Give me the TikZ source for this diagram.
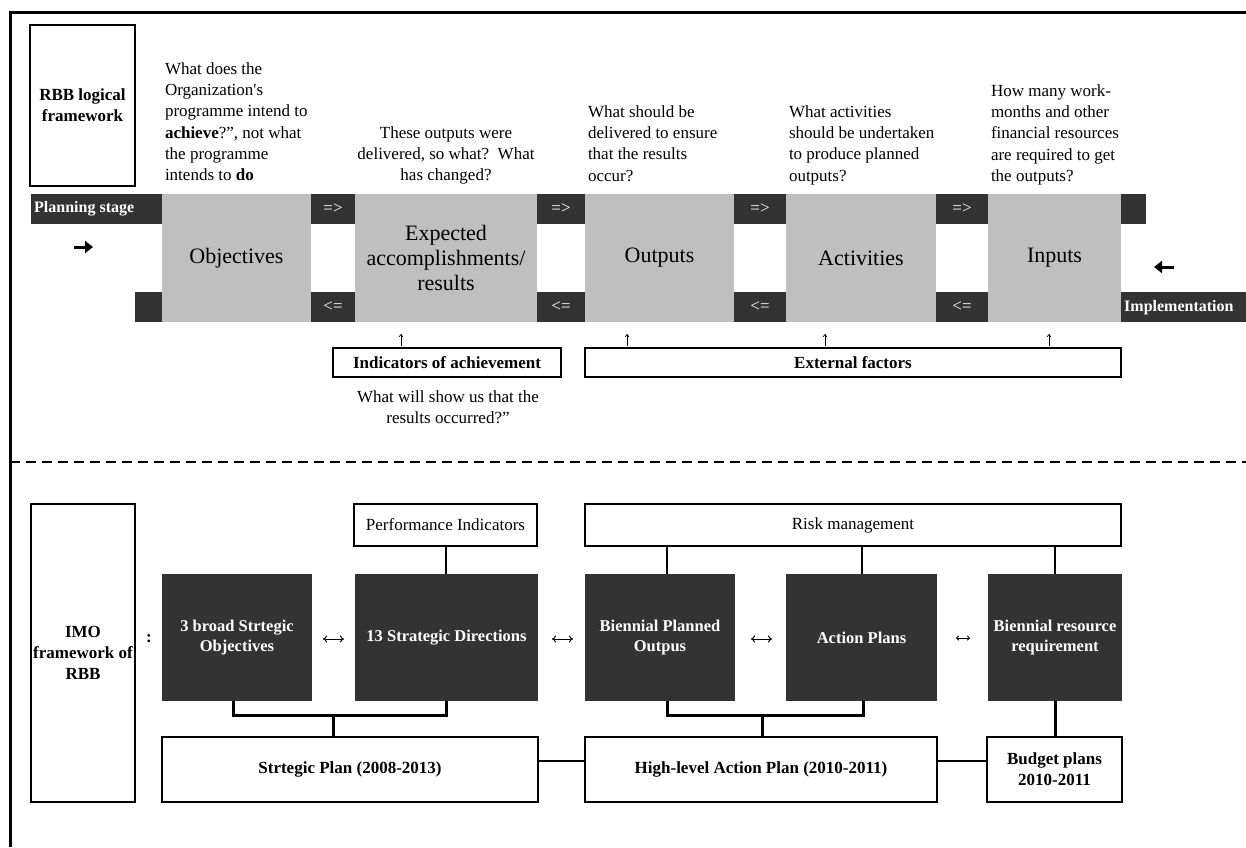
\documentclass[tikz,border=0pt]{standalone}
\usepackage{fontspec}
\setmainfont{Liberation Serif}
\usetikzlibrary{arrows.meta,calc}
\definecolor{darkc}{RGB}{51,51,51}
\definecolor{greyc}{RGB}{191,191,191}
\newcommand\BX[7]{\node[#1, minimum width={#5-#3}, minimum height={#6-#4}] (#2) at ({(#3+#5)/2},{(#4+#6)/2}) {#7};}
\tikzset{
  base/.style={inner sep=0pt, outer sep=0pt, align=center},
  wbox/.style={base, draw, line width=2.5pt, fill=white, font=\fontsize{17}{21}\selectfont\bfseries},
  wboxr/.style={base, draw, line width=2.5pt, fill=white, font=\fontsize{17}{21}\selectfont},
  dbox/.style={base, fill=darkc, text=white, font=\fontsize{16.5}{20}\selectfont\bfseries},
  gbox/.style={base, fill=greyc, font=\fontsize{22}{25}\selectfont},
  tile/.style={base, fill=darkc, text=white, font=\fontsize{17}{20}\selectfont},
  qtext/.style={inner sep=0pt, outer sep=0pt, font=\fontsize{17}{21.3}\selectfont},
  conn/.style={line width=2pt},
  thk/.style={line width=3pt},
  bigarrow/.style={line width=3pt, -{Triangle[length=8pt,width=12pt]}},
  dblarrow/.style={line width=1pt, {To[length=4pt,width=7pt]}-{To[length=4pt,width=7pt]}},
  smallup/.style={line width=0.7pt, -{To[length=3pt,width=4pt]}}
}
\begin{document}
\begin{tikzpicture}[x=1pt,y=-1pt]
\useasboundingbox (0,0) rectangle (1246,847);
% frame
\draw[line width=3pt] (10,847) -- (10,12) -- (1246,12);
\draw[line width=2.5pt, dash pattern=on 10pt off 6pt] (10,462) -- (1246,462);

% ---------- top section ----------
\BX{wbox}{rbb}{30}{25}{135}{186}{RBB logical\\framework}
\BX{tile}{plan}{31}{194}{162}{224}{}
\node[anchor=west, inner sep=0pt, text=white, font=\fontsize{16}{20}\selectfont\bfseries] (plant) at (34,209) {Planning stage};
\BX{gbox}{obj}{162}{194}{311}{322}{Objectives}
\BX{tile}{d1b}{135}{292}{162}{322}{}
\BX{tile}{d12t}{311}{194}{355}{224}{=>}
\BX{tile}{d12b}{311}{292}{355}{322}{<=}
\BX{gbox}{exp}{355}{194}{537}{322}{Expected\\accomplishments/\\results}
\BX{tile}{d23t}{537}{194}{585}{224}{=>}
\BX{tile}{d23b}{537}{292}{585}{322}{<=}
\BX{gbox}{out}{585}{194}{734}{322}{Outputs}
\BX{tile}{d34t}{734}{194}{786}{224}{=>}
\BX{tile}{d34b}{734}{292}{786}{322}{<=}
\BX{gbox}{act}{786}{194}{936}{322}{Activities}
\BX{tile}{d45t}{936}{194}{988}{224}{=>}
\BX{tile}{d45b}{936}{292}{988}{322}{<=}
\BX{gbox}{inp}{988}{194}{1121}{322}{Inputs}
\BX{tile}{d5t}{1121}{194}{1146}{224}{}
\BX{tile}{impl}{1121}{292}{1246}{322}{}
\node[anchor=west, inner sep=0pt, text=white, font=\fontsize{16}{20}\selectfont\bfseries] (implt) at (1124,308) {Implementation};

% questions
\node[qtext, anchor=north west, align=left] (q1) at (165,62.3) {What does the\\Organization\textquotesingle s\\programme intend to\\\textbf{achieve}?”, not what\\the programme\\intends to \textbf{do}};
\node[qtext, anchor=north, align=center] (q2) at (446,126.3) {These outputs were\\delivered, so what?\ \ What\\has changed?};
\node[qtext, anchor=north west, align=left] (q3) at (588,105.3) {What should be\\delivered to ensure\\that the results\\occur?};
\node[qtext, anchor=north west, align=left] (q4) at (789,105.3) {What activities\\should be undertaken\\to produce planned\\outputs?};
\node[qtext, anchor=north west, align=left] (q5) at (991,84.3) {How many work-\\months and other\\financial resources\\are required to get\\the outputs?};

% direction arrows
\coordinate (ra1) at (74,247); \coordinate (ra2) at (93,247);
\draw[bigarrow] (ra1) -- (ra2);
\coordinate (la1) at (1174,267); \coordinate (la2) at (1154,267);
\draw[bigarrow] (la1) -- (la2);

% boxes below the chain
\BX{wbox}{ind}{333}{348}{561}{377}{Indicators of achievement}
\BX{wbox}{ext}{585}{348}{1121}{377}{External factors}
\node[qtext, anchor=north, align=center] (q6) at (448,390.3) {What will show us that the\\results occurred?”};

% small up arrows
\foreach \ux/\nm in {401/u1,627/u2,825/u3,1049/u4}{
  \coordinate (\nm a) at (\ux,346); \coordinate (\nm b) at (\ux,334);
  \draw[smallup] (\nm a) -- (\nm b);
}

% ---------- bottom section ----------
\BX{wbox}{imo}{31}{504}{135}{802}{IMO\\framework of\\RBB}
\node[inner sep=0pt, font=\fontsize{17}{20}\selectfont\bfseries] (colon) at (149,639) {:};
\BX{wboxr}{pi}{354}{504}{537}{546}{Performance Indicators}
\BX{wboxr}{risk}{585}{504}{1121}{546}{Risk management}
\BX{dbox}{s1}{162}{574}{312}{701}{3 broad Strtegic\\Objectives}
\BX{dbox}{s2}{355}{574}{538}{701}{13 Strategic Directions}
\BX{dbox}{s3}{585}{574}{735}{701}{Biennial Planned\\Outpus}
\BX{dbox}{s4}{786}{574}{937}{701}{Action Plans}
\BX{dbox}{s5}{988}{574}{1122}{701}{Biennial resource\\requirement}
\BX{wbox}{sp}{162}{737}{538}{802}{Strtegic Plan (2008-2013)}
\BX{wbox}{hl}{585}{737}{937}{802}{High-level Action Plan (2010-2011)}
\BX{wbox}{bp}{987}{737}{1122}{802}{Budget plans\\2010-2011}

% double arrows between the dark boxes
\draw[dblarrow] (323,639) -- (344,639);
\draw[dblarrow] (552,639) -- (573,639);
\draw[dblarrow] (751,639) -- (772,639);
\draw[line width=0.8pt, {To[length=3pt,width=5pt]}-{To[length=3pt,width=5pt]}] (956,638) -- (970,638);

% connectors
\draw[conn] (pi.south) -- (s2.north -| pi.south);
\draw[conn] ([xshift=7pt]s3.north |- risk.south) -- ([xshift=7pt]s3.north);
\draw[conn] ([xshift=0.5pt]s4.north |- risk.south) -- ([xshift=0.5pt]s4.north);
\draw[conn] (s5.north |- risk.south) -- (s5.north);

\coordinate (b1) at (333,715);
\draw[thk] ([xshift=-4pt]s1.south) |- (b1) -| (s2.south);
\draw[thk] (b1) -- (b1 |- sp.north);
\coordinate (b2) at (762,715);
\draw[thk] ([xshift=7pt]s3.south) |- (b2) -| ([xshift=1.5pt]s4.south);
\draw[thk] (b2) -- (b2 |- hl.north);
\draw[thk] (s5.south) -- (s5.south |- bp.north);
\draw[conn] ([yshift=8.5pt]sp.east) -- ([yshift=8.5pt]hl.west);
\draw[conn] ([yshift=8.5pt]hl.east) -- ([yshift=8.5pt]bp.west);
\end{tikzpicture}
\end{document}
